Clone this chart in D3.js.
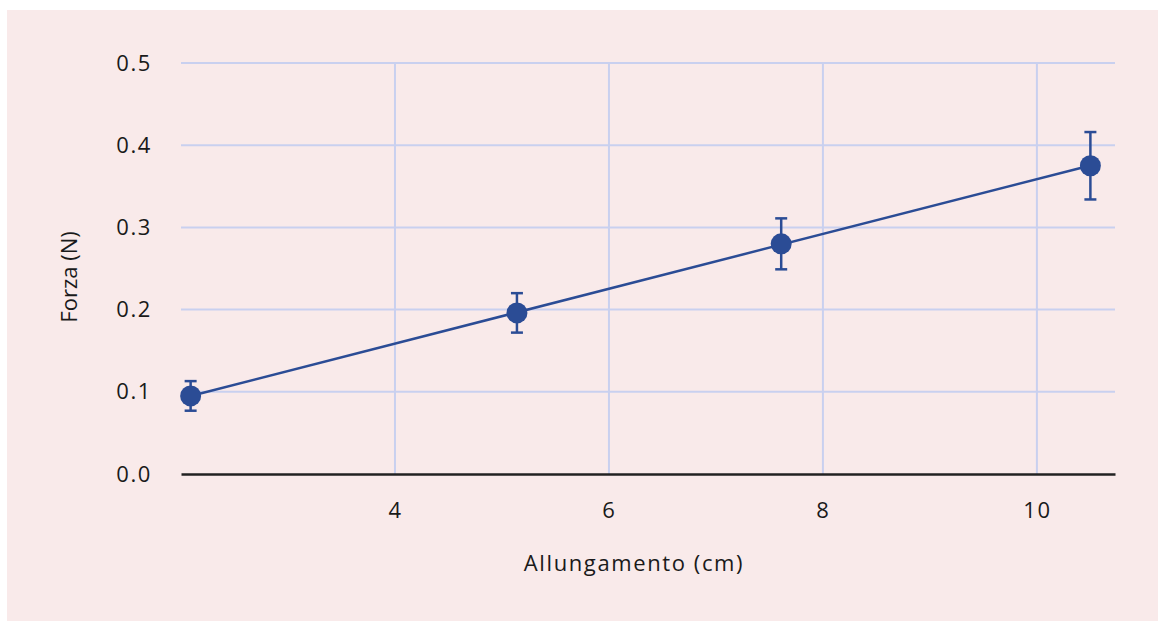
<!DOCTYPE html>
<html>
<head>
<meta charset="utf-8">
<script src="https://cdn.jsdelivr.net/npm/d3@7"></script>
<style>
  body { margin: 0; background: #fff; }
  text { font-family: "Open Sans", Lato, sans-serif; fill: #1a1a1a; }
</style>
</head>
<body>
<svg id="chart" width="1158" height="621"></svg>
<script>
// Measured data
const elongation = [2.09, 5.14, 7.61, 10.5];
const force = [0.095, 0.196, 0.280, 0.375];
const forceErr = [0.018, 0.024, 0.031, 0.041];
const xTicks = [4, 6, 8, 10];
const yTicks = [0.0, 0.1, 0.2, 0.3, 0.4, 0.5];

const width = 1158;
const height = 621;
const margin = {top: 63, right: 43, bottom: 147, left: 181};
const blue = '#2b4c95';
const fontSize = '22px';
const spacing = '1.6px';

const svg = d3.select('#chart');

svg.append('rect')
  .attr('x', 7)
  .attr('y', 10)
  .attr('width', width - 7)
  .attr('height', height - 10)
  .attr('fill', '#f9eaea');

const x = d3.scaleLinear()
  .domain([2, 10.73])
  .range([margin.left, width - margin.right]);

const y = d3.scaleLinear()
  .domain([0, 0.5])
  .range([height - margin.bottom, margin.top]);

// grid
svg.append('g')
  .selectAll('line')
  .data(yTicks.filter((d) => d > 0))
  .join('line')
  .attr('x1', x.range()[0])
  .attr('x2', x.range()[1])
  .attr('y1', (d) => y(d))
  .attr('y2', (d) => y(d))
  .attr('stroke', '#c9d0ef')
  .attr('stroke-width', 2);

svg.append('g')
  .selectAll('line')
  .data(xTicks)
  .join('line')
  .attr('x1', (d) => x(d))
  .attr('x2', (d) => x(d))
  .attr('y1', y(0.5))
  .attr('y2', y(0))
  .attr('stroke', '#c9d0ef')
  .attr('stroke-width', 2);

// axes
const styleTicks = (g) => g.selectAll('text')
  .style('font-size', fontSize)
  .style('font-family', '"Open Sans", sans-serif')
  .style('letter-spacing', spacing)
  .attr('fill', '#1a1a1a');

const xAxis = svg.append('g')
  .attr('transform', `translate(0,${y(0)})`)
  .call(d3.axisBottom(x).tickValues(xTicks).tickSize(0).tickPadding(28)
    .tickFormat(d3.format('d')));
xAxis.select('.domain').attr('stroke', '#222').attr('stroke-width', 2.5);
styleTicks(xAxis);

const yAxis = svg.append('g')
  .attr('transform', `translate(${x.range()[0]},0)`)
  .call(d3.axisLeft(y).tickValues(yTicks).tickSize(0).tickPadding(29)
    .tickFormat(d3.format('.1f')));
yAxis.select('.domain').remove();
styleTicks(yAxis);

svg.append('text')
  .attr('x', 634)
  .attr('y', 571)
  .attr('text-anchor', 'middle')
  .style('font-size', fontSize)
  .style('letter-spacing', spacing)
  .text('Allungamento (cm)');

svg.append('text')
  .attr('transform', 'translate(77,277) rotate(-90)')
  .attr('text-anchor', 'middle')
  .style('font-size', fontSize)
  .text('Forza (N)');

// least-squares fit line
const mx = d3.mean(elongation);
const my = d3.mean(force);
const slope = d3.sum(elongation, (d, i) => (d - mx) * (force[i] - my)) /
  d3.sum(elongation, (d) => (d - mx) ** 2);
const intercept = my - slope * mx;
const ends = d3.extent(elongation);

svg.append('path')
  .datum(ends)
  .attr('d', d3.line().x((d) => x(d)).y((d) => y(intercept + slope * d)))
  .attr('stroke', blue)
  .attr('stroke-width', 2.5)
  .attr('fill', 'none');

// error bars and points
const pts = elongation.map((d, i) => ({x: d, y: force[i], e: forceErr[i]}));
const bars = svg.append('g').selectAll('g').data(pts).join('g')
  .attr('stroke', blue)
  .attr('stroke-width', 2.5);

bars.append('line')
  .attr('x1', (d) => x(d.x)).attr('x2', (d) => x(d.x))
  .attr('y1', (d) => y(d.y - d.e)).attr('y2', (d) => y(d.y + d.e));
bars.append('line')
  .attr('x1', (d) => x(d.x) - 6).attr('x2', (d) => x(d.x) + 6)
  .attr('y1', (d) => y(d.y + d.e)).attr('y2', (d) => y(d.y + d.e));
bars.append('line')
  .attr('x1', (d) => x(d.x) - 6).attr('x2', (d) => x(d.x) + 6)
  .attr('y1', (d) => y(d.y - d.e)).attr('y2', (d) => y(d.y - d.e));

svg.append('g').selectAll('circle').data(pts).join('circle')
  .attr('cx', (d) => x(d.x))
  .attr('cy', (d) => y(d.y))
  .attr('r', 10.5)
  .attr('fill', blue);
</script>
</body>
</html>
